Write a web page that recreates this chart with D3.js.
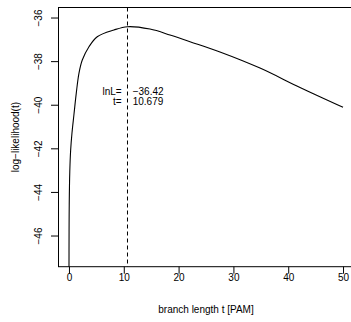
<!DOCTYPE html>
<html>
<head>
<meta charset="utf-8">
<script src="https://cdn.jsdelivr.net/npm/d3@7"></script>
<style>
  html, body { margin: 0; padding: 0; background: #fff; }
  svg { display: block; }
  text { font-family: "Liberation Sans", Arial, Helvetica, sans-serif; font-size: 10px; fill: #000; }
</style>
</head>
<body>
<svg id="chart" width="351" height="322"></svg>
<script>
// ---- data ----
const branchLength = [0.004, 0.02, 0.05, 0.15, 0.31, 0.55, 0.91, 1.33, 1.82, 2.43, 3.65, 5.16, 8.21, 10.679, 14.78, 18.43, 22.08, 27.55, 34.85, 42.15, 50];
const logLikelihood = [-48.0, -45.8, -44.56, -43.07, -42.08, -41.30, -40.45, -39.48, -38.56, -37.95, -37.34, -36.88, -36.57, -36.42, -36.53, -36.80, -37.11, -37.58, -38.32, -39.21, -40.12];
const xTicks = [0, 10, 20, 30, 40, 50];
const yTicks = [-36, -38, -40, -42, -44, -46];
const bestT = 10.679;
const bestLnL = -36.42;
const xDomain = [-2, 52];
const yDomain = [-47.43, -35.54];
const xTitle = "branch length t [PAM]";
const yTitle = "log\u2212likelihood(t)";

// ---- layout ----
const mLeft = 58, mRight = 354, mTop = 7.5, mBottom = 266.7;
const svg = d3.select("#chart");
const x = d3.scaleLinear().domain(xDomain).range([mLeft, mRight]);
const y = d3.scaleLinear().domain(yDomain).range([mBottom, mTop]);
const fmt = v => String(v).replace("-", "\u2212");

svg.append("defs").append("clipPath").attr("id", "clip")
  .append("rect").attr("x", mLeft).attr("y", mTop).attr("width", mRight - mLeft).attr("height", mBottom - mTop);

const data = branchLength.map((t, i) => ({ t, v: logLikelihood[i] }));

// curve
svg.append("path")
  .datum(data)
  .attr("clip-path", "url(#clip)")
  .attr("fill", "none")
  .attr("stroke", "#000")
  .attr("stroke-width", 1.1)
  .attr("d", d3.line().x(d => x(d.t)).y(d => y(d.v)).curve(d3.curveCatmullRom.alpha(0.5)));

// dashed vertical line at the optimum
svg.append("line")
  .attr("x1", x(bestT)).attr("x2", x(bestT))
  .attr("y1", mTop).attr("y2", mBottom)
  .attr("stroke", "#000").attr("stroke-width", 1)
  .attr("stroke-dasharray", "4,3");

// box
svg.append("rect")
  .attr("x", mLeft + 0.5).attr("y", mTop)
  .attr("width", mRight - mLeft).attr("height", mBottom - mTop)
  .attr("fill", "none").attr("stroke", "#000").attr("stroke-width", 1);

// x axis
const xAxis = d3.axisBottom(x).tickValues(xTicks).tickSize(7).tickPadding(4).tickFormat(d => fmt(d));
const gx = svg.append("g").attr("transform", `translate(0,${mBottom})`).call(xAxis);
gx.select(".domain").remove();
gx.selectAll(".tick line").attr("stroke", "#000");
gx.selectAll(".tick text").attr("font-size", 10).attr("font-family", null).attr("fill", "#000")
  .attr("dy", null).attr("y", 14);

// y axis
const yAxis = d3.axisLeft(y).tickValues(yTicks).tickSize(7).tickFormat(d => fmt(d));
const gy = svg.append("g").attr("transform", `translate(${mLeft},0)`).call(yAxis);
gy.select(".domain").remove();
gy.selectAll(".tick line").attr("stroke", "#000");
gy.selectAll(".tick text")
  .attr("font-size", 10).attr("font-family", null).attr("fill", "#000")
  .attr("x", null).attr("dy", null)
  .attr("text-anchor", "middle")
  .attr("transform", "translate(-15.8,0) rotate(-90)");

// axis titles
svg.append("text")
  .attr("x", (mLeft + mRight) / 2).attr("y", 313)
  .attr("text-anchor", "middle")
  .text(xTitle);

svg.append("text")
  .attr("transform", `translate(18.5,${(mTop + mBottom) / 2}) rotate(-90)`)
  .attr("text-anchor", "middle")
  .text(yTitle);

// annotation
const ax = x(bestT);
svg.append("text").attr("x", ax - 5.8).attr("y", 95).attr("text-anchor", "end").text("lnL=");
svg.append("text").attr("x", ax - 5.8).attr("y", 105).attr("text-anchor", "end").text("t=");
svg.append("text").attr("x", ax + 5.2).attr("y", 95).text(fmt(bestLnL.toFixed(2)));
svg.append("text").attr("x", ax + 5.2).attr("y", 105).text(bestT.toFixed(3));
</script>
</body>
</html>
